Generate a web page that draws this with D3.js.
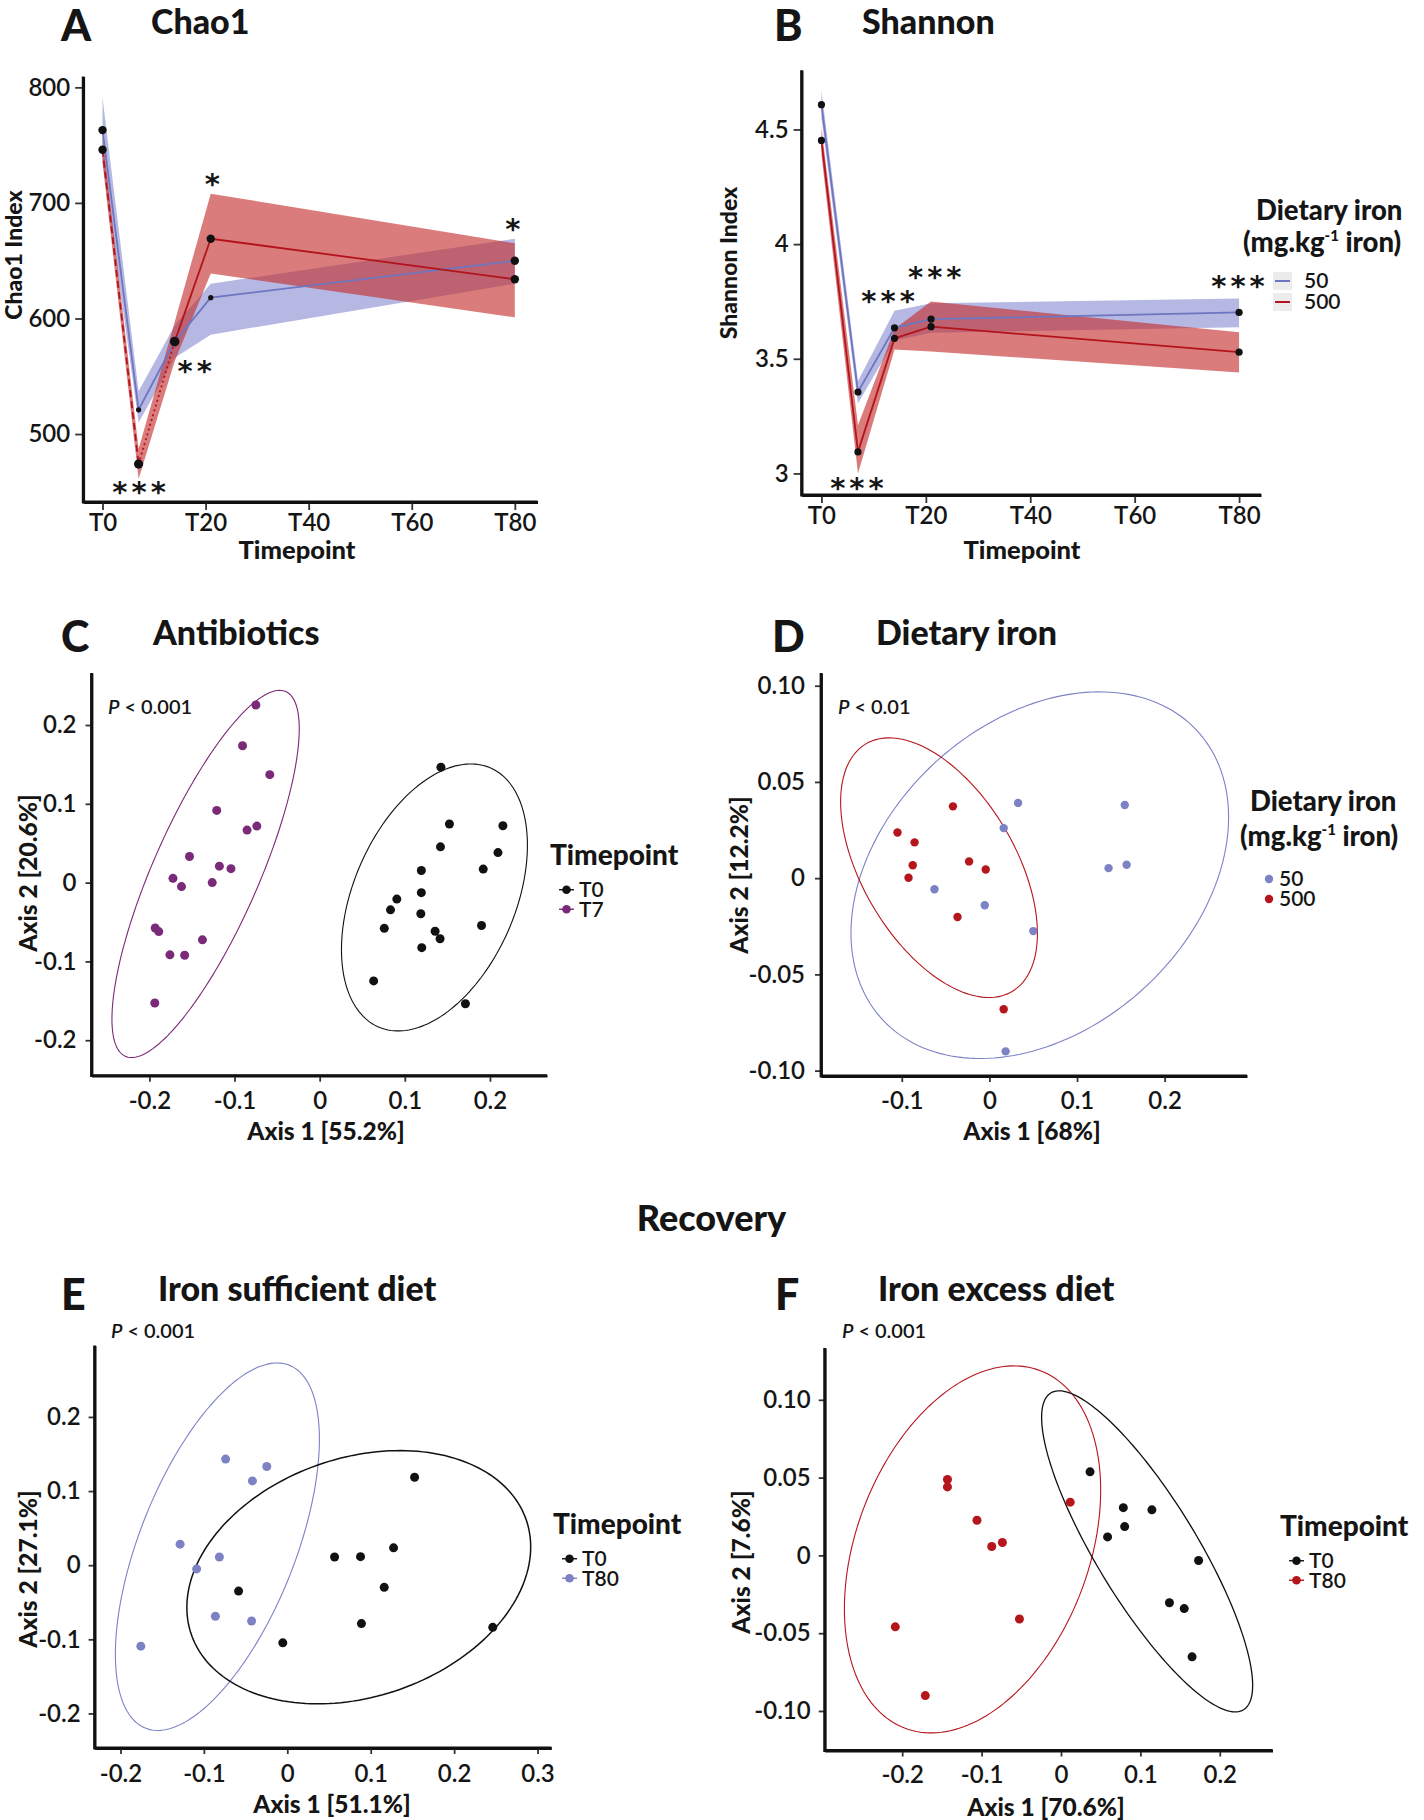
<!DOCTYPE html>
<html><head><meta charset="utf-8">
<script src="https://cdn.jsdelivr.net/npm/d3@7"></script>
<style>
body{margin:0;background:#fff}
svg text{font-family:Lato,'Open Sans',sans-serif;fill:#151515}
</style>
</head><body>
<svg id="fig" width="1424" height="1820"></svg>
<script>
// ---------------- DATA ----------------
const days = [0, 7, 14, 21, 80];
const timeTicks = [0, 20, 40, 60, 80];
const timeLabels = ['T0', 'T20', 'T40', 'T60', 'T80'];

const chao50    = [763, 521, 580, 618, 650];
const chao50Lo  = [736, 510, 566, 586, 630];
const chao50Hi  = [791, 537, 594, 630, 669];
const chao500   = [746, 474, 580, 669, 634];
const chao500Lo = [735, 461, 563, 639, 601];
const chao500Hi = [758, 487, 597, 708, 665];
const chaoTicks = [500, 600, 700, 800];
const chaoStars = [[7.1, 454.6, '***'], [17.9, 558.8, '**'], [21.3, 720.3, '*'], [79.6, 681.7, '*']];

const shan50    = [4.608, 3.355, 3.635, 3.673, 3.702];
const shan50Lo  = [4.55, 3.306, 3.58, 3.613, 3.637];
const shan50Hi  = [4.669, 3.403, 3.71, 3.742, 3.763];
const shan500   = [4.452, 3.094, 3.589, 3.640, 3.529];
const shan500Lo = [4.39, 3.0, 3.54, 3.532, 3.44];
const shan500Hi = [4.508, 3.21, 3.63, 3.75, 3.616];
const shanTicks = [3, 3.5, 4, 4.5];
const shanLabels = ['3', '3.5', '4', '4.5'];
const shanStars = [[6.8, 2.959, '***'], [12.76, 3.774, '***'], [21.7, 3.879, '***'], [79.8, 3.839, '***']];

// Panel C: antibiotics (T0 vs T7)
const cT7 = [[-0.0749,0.2254],[-0.0906,0.1737],[-0.0586,0.1370],[-0.1209,0.0916],[-0.0853,0.0667],[-0.0738,0.0717],
  [-0.1529,0.0331],[-0.1178,0.0209],[-0.1042,0.0177],[-0.1723,0.0054],[-0.1623,-0.0050],[-0.1262,0.0],
  [-0.1932,-0.0576],[-0.1890,-0.0621],[-0.1377,-0.0726],[-0.1759,-0.0916],[-0.1586,-0.0921],[-0.1937,-0.1528]];
const cT0 = [[0.1424,0.1465],[0.1524,0.0744],[0.2152,0.0721],[0.1419,0.0454],[0.2094,0.0381],[0.1921,0.0172],
  [0.1194,0.0154],[0.1194,-0.0127],[0.0906,-0.0209],[0.0832,-0.0345],[0.0759,-0.0580],[0.1188,-0.0395],
  [0.1901,-0.0544],[0.1356,-0.0617],[0.1414,-0.0712],[0.1199,-0.0825],[0.0634,-0.1247],[0.1712,-0.1537]];
// Panel D: dietary iron
const dFe50 = [[0.0327,0.0391],[0.0163,0.0260],[0.1545,0.0380],[0.1360,0.0052],[0.1566,0.0070],[-0.0627,-0.0058],
  [-0.0053,-0.0141],[0.0501,-0.0275],[0.0185,-0.0900]];
const dFe500 = [[-0.0416,0.0373],[-0.1049,0.0237],[-0.0854,0.0186],[-0.0875,0.0067],[-0.0923,0.0002],[-0.0232,0.0087],
  [-0.0042,0.0045],[-0.0364,-0.0202],[0.0163,-0.0681]];
// Panel E: iron sufficient diet
const eT80 = [[-0.0739,0.1431],[-0.0246,0.1332],[-0.0418,0.1137],[-0.1285,0.0284],[-0.0814,0.0110],[-0.1087,-0.0050],
  [-0.0862,-0.0688],[-0.0428,-0.0753],[-0.1756,-0.1092]];
const eT0 = [[0.1526,0.1187],[0.1274,0.0234],[0.0567,0.0110],[0.0878,0.0115],[0.1162,-0.0299],[-0.0584,-0.0349],
  [0.0889,-0.0788],[-0.0054,-0.1047],[0.2463,-0.0838]];
// Panel F: iron excess diet
const fT80 = [[-0.1430,0.0488],[-0.1430,0.0440],[-0.1058,0.0226],[-0.0872,0.0057],[-0.0738,0.0083],[0.0116,0.0342],
  [-0.2087,-0.0459],[-0.0523,-0.0409],[-0.1709,-0.0901]];
const fT0 = [[0.0366,0.0537],[0.0785,0.0307],[0.1145,0.0293],[0.0802,0.0185],[0.0587,0.0119],[0.1733,-0.0033],
  [0.1366,-0.0304],[0.1552,-0.0342],[0.1651,-0.0652]];

// ellipses: [cx, cy, sdx, sdy, r]
const ellC_T7 = [-0.134, 0.011, 0.110, 0.233, 0.79];
const ellC_T0 = [0.1348, -0.0188, 0.1092, 0.1694, 0.391];
const ellD_50 = [0.0575, 0.00155, 0.2155, 0.09525, 0.316];
const ellD_500 = [-0.0575, 0.00545, 0.1123, 0.06745, -0.507];
const ellE_T80 = [-0.0838, 0.02495, 0.1223, 0.24785, 0.585];
const ellE_T0 = [0.0857, -0.0162, 0.2061, 0.1708, 0.239];
const ellF_T80 = [-0.1114, 0.00385, 0.1614, 0.11795, 0.323];
const ellF_T0 = [0.1085, 0.0026, 0.1329, 0.1032, -0.834];

const ticksC_x = [-0.2, -0.1, 0, 0.1, 0.2], labC_x = ['-0.2','-0.1','0','0.1','0.2'];
const ticksC_y = [-0.2, -0.1, 0, 0.1, 0.2], labC_y = ['-0.2','-0.1','0','0.1','0.2'];
const ticksD_x = [-0.1, 0, 0.1, 0.2], labD_x = ['-0.1','0','0.1','0.2'];
const ticksD_y = [-0.1, -0.05, 0, 0.05, 0.1], labD_y = ['-0.10','-0.05','0','0.05','0.10'];
const ticksE_x = [-0.2, -0.1, 0, 0.1, 0.2, 0.3], labE_x = ['-0.2','-0.1','0','0.1','0.2','0.3'];
const ticksE_y = [-0.2, -0.1, 0, 0.1, 0.2], labE_y = ['-0.2','-0.1','0','0.1','0.2'];
const ticksF_x = [-0.2, -0.1, 0, 0.1, 0.2], labF_x = ['-0.2','-0.1','0','0.1','0.2'];
const ticksF_y = [-0.1, -0.05, 0, 0.05, 0.1], labF_y = ['-0.10','-0.05','0','0.05','0.10'];

// ---------------- STYLE ----------------
const C = {
  blueLine: '#6e76c0', blueFill: 'rgba(108,113,200,0.5)',
  redLine: '#b3131b', redFill: 'rgba(196,44,44,0.62)',
  bluePt: '#7c82c4', redPt: '#b5161c', purple: '#7a2a78', black: '#111'
};
const svg = d3.select('#fig');

function axes(p) {
  const x = d3.scaleLinear().domain(p.xDom).range([p.x0, p.x1]);
  const y = d3.scaleLinear().domain(p.yDom).range([p.y1, p.y0]);
  const g = svg.append('g');
  const xa = d3.axisBottom(x).tickValues(p.xT).tickFormat((d, i) => p.xL[i])
    .tickSize(p.tick).tickPadding(p.xPad).tickSizeOuter(0);
  const ya = d3.axisLeft(y).tickValues(p.yT).tickFormat((d, i) => p.yL[i])
    .tickSize(p.tick).tickPadding(p.yPad).tickSizeOuter(0);
  const gx = g.append('g').attr('transform', `translate(0,${p.y1})`).call(xa);
  const gy = g.append('g').attr('transform', `translate(${p.x0},0)`).call(ya);
  [gx, gy].forEach(a => {
    a.attr('font-size', 24).attr('font-family', null);
    a.select('.domain').attr('stroke', '#111').attr('stroke-width', 2.8);
    a.selectAll('.tick line').attr('stroke', '#333').attr('stroke-width', 1.8);
    a.selectAll('.tick text').style('font-weight', 600).attr('fill', '#151515');
  });
  g.append('path').attr('d', `M${p.x0},${p.y0}V${p.y1}H${p.x1}`).attr('fill', 'none')
    .attr('stroke', '#111').attr('stroke-width', 2.8);
  return { x, y, g };
}

function text(x, y, s, opt = {}) {
  const t = svg.append('text').attr('x', x).attr('y', y).text(s)
    .attr('font-size', opt.size || 24).style('font-weight', opt.w || 700)
    .attr('text-anchor', opt.anchor || 'start');
  if (opt.rot) t.attr('transform', `rotate(-90,${x},${y})`);
  if (opt.italic) t.style('font-style', 'italic');
  return t;
}

function title(letterX, y1, lbl, titleX, y2, s) {
  text(letterX, y1, lbl, { size: 43, w: 900 });
  text(titleX, y2, s, { size: 34, w: 900 });
}

function stars(ax, list) {
  list.forEach(([d, v, s]) => {
    svg.append('text').attr('x', ax.x(d) + 2).attr('y', ax.y(v) + 15).text(s)
      .attr('text-anchor', 'middle').attr('font-size', 29)
      .style('font-family', 'DejaVu Sans').style('font-weight', 700)
      .attr('letter-spacing', 4).attr('fill', '#111');
  });
}

function rows(m, lo, hi) { return days.map((d, i) => ({ d, m: m[i], lo: lo[i], hi: hi[i] })); }

function ribbonPlot(ax, s50, s500, dash500, dotR) {
  const area = d3.area().x(r => ax.x(r.d)).y0(r => ax.y(r.lo)).y1(r => ax.y(r.hi));
  const line = d3.line().x(r => ax.x(r.d)).y(r => ax.y(r.m));
  svg.append('path').datum(s50).attr('d', area).attr('fill', C.blueFill);
  svg.append('path').datum(s500).attr('d', area).attr('fill', C.redFill);
  svg.append('path').datum(s50).attr('d', line).attr('fill', 'none').attr('stroke', C.blueLine).attr('stroke-width', 1.8);
  for (let i = 0; i < s500.length - 1; i++) {
    svg.append('path').datum([s500[i], s500[i + 1]]).attr('d', line).attr('fill', 'none')
      .attr('stroke', C.redLine).attr('stroke-width', 1.8)
      .attr('stroke-dasharray', dash500[i]);
  }
  [[s50, dotR[0]], [s500, dotR[1]]].forEach(([s, rr]) => {
    svg.selectAll(null).data(s).enter().append('circle')
      .attr('cx', r => ax.x(r.d)).attr('cy', r => ax.y(r.m)).attr('r', (r, i) => rr[i]).attr('fill', '#111');
  });
}

function ellipse(ax, e, color, w) {
  const [cx, cy, sx, sy, r] = e;
  const ts = d3.range(0, 361, 2).map(a => a * Math.PI / 180);
  const pts = ts.map(t => [cx + sx * Math.cos(t), cy + sy * (r * Math.cos(t) + Math.sqrt(1 - r * r) * Math.sin(t))]);
  svg.append('path').datum(pts).attr('d', d3.line().x(p => ax.x(p[0])).y(p => ax.y(p[1])))
    .attr('fill', 'none').attr('stroke', color).attr('stroke-width', w || 1.1);
}

function points(ax, pts, color, r) {
  svg.selectAll(null).data(pts).enter().append('circle')
    .attr('cx', p => ax.x(p[0])).attr('cy', p => ax.y(p[1])).attr('r', r || 4.5).attr('fill', color);
}

// stacked legend labels drawn as one text block with tspans
function labelBlock(x, firstCy, labels, dy, size) {
  const t = svg.append('text').attr('font-size', size).style('font-weight', 600);
  labels.forEach((l, i) => {
    t.append('tspan').attr('x', x).attr('y', firstCy + i * dy + 7.3).text(l);
  });
}

function ptLegend(x, y, ttl, labels, colors, dy) {
  text(x, y, ttl, { size: 28, w: 900 });
  const cy0 = y + 15 + 0.5 * dy;
  labels.forEach((l, i) => {
    const cy = cy0 + i * dy;
    svg.append('line').attr('x1', x + 9).attr('x2', x + 24).attr('y1', cy).attr('y2', cy)
      .attr('stroke', colors[i]).attr('stroke-width', 1.4);
    svg.append('circle').attr('cx', x + 16.5).attr('cy', cy).attr('r', 4.3).attr('fill', colors[i]);
  });
  labelBlock(x + 29, cy0, labels, dy, 21);
}

function ironTitle(x1, y1, x2, y2) {
  text(x1, y1, 'Dietary iron', { size: 27.5, w: 900 });
  const t = text(x2, y2, '(mg.kg', { size: 27.5, w: 900 });
  t.append('tspan').text('-1').attr('font-size', 15).attr('dy', -11);
  t.append('tspan').text(' iron)').attr('dy', 11);
}

// ---------------- PANEL A ----------------
const A = axes({ x0: 83.2, x1: 537.5, y0: 76.6, y1: 502, xDom: [-3.75, 84.4], yDom: [441.2, 809.3],
  xT: timeTicks, xL: timeLabels, yT: chaoTicks, yL: chaoTicks.map(String), tick: 8, xPad: 4, yPad: 5 });
ribbonPlot(A, rows(chao50, chao50Lo, chao50Hi), rows(chao500, chao500Lo, chao500Hi),
  ['7,4', '2,3', null, null], [[4.2, 2.6, 4.2, 2.6, 4.2], [4.2, 4.6, 4.8, 4.2, 4.2]]);
stars(A, chaoStars);
title(61, 41, 'A', 151, 34, 'Chao1');
text(297, 559, 'Timepoint', { size: 25.5, w: 900, anchor: 'middle' });
text(22, 255, 'Chao1 Index', { size: 23, w: 900, anchor: 'middle', rot: true });

// ---------------- PANEL B ----------------
const B = axes({ x0: 801.6, x1: 1261, y0: 70.3, y1: 495, xDom: [-3.8, 84.2], yDom: [2.906, 4.758],
  xT: timeTicks, xL: timeLabels, yT: shanTicks, yL: shanLabels, tick: 8, xPad: 4, yPad: 5 });
ribbonPlot(B, rows(shan50, shan50Lo, shan50Hi), rows(shan500, shan500Lo, shan500Hi),
  [null, null, null, null], [[3.6, 3.6, 3.6, 3.6, 3.6], [3.6, 3.6, 3.6, 3.6, 3.6]]);
stars(B, shanStars);
title(774, 41, 'B', 862, 34, 'Shannon');
text(1022, 559, 'Timepoint', { size: 25.5, w: 900, anchor: 'middle' });
text(737, 263, 'Shannon Index', { size: 23, w: 900, anchor: 'middle', rot: true });
ironTitle(1256, 220, 1243, 252);
[[C.blueLine, 281], [C.redLine, 302]].forEach(([c, cy]) => {
  svg.append('rect').attr('x', 1273).attr('y', cy - 9).attr('width', 19).attr('height', 18).attr('fill', '#ececec');
  svg.append('line').attr('x1', 1275).attr('x2', 1290).attr('y1', cy).attr('y2', cy).attr('stroke', c).attr('stroke-width', 2);
});
labelBlock(1304, 281, ['50', '500'], 21, 21);

// ---------------- PANEL C ----------------
const Cp = axes({ x0: 91.5, x1: 547, y0: 673, y1: 1075.7, xDom: [-0.268, 0.267], yDom: [-0.245, 0.266],
  xT: ticksC_x, xL: labC_x, yT: ticksC_y, yL: labC_y, tick: 6, xPad: 10, yPad: 9 });
ellipse(Cp, ellC_T7, C.purple); ellipse(Cp, ellC_T0, C.black);
points(Cp, cT7, C.purple); points(Cp, cT0, C.black);
title(61, 652, 'C', 153, 645, 'Antibiotics');
text(108, 714, 'P', { size: 20, w: 600, italic: true }).append('tspan').text(' < 0.001').style('font-style', 'normal');
text(326, 1140, 'Axis 1 [55.2%]', { size: 24.5, w: 900, anchor: 'middle' });
text(37, 873, 'Axis 2 [20.6%]', { size: 24.5, w: 900, anchor: 'middle', rot: true });
ptLegend(550, 865, 'Timepoint', ['T0', 'T7'], [C.black, C.purple], 19.5);

// ---------------- PANEL D ----------------
const Dp = axes({ x0: 821, x1: 1247, y0: 673, y1: 1076, xDom: [-0.1922, 0.294], yDom: [-0.1028, 0.1066],
  xT: ticksD_x, xL: labD_x, yT: ticksD_y, yL: labD_y, tick: 6, xPad: 10, yPad: 10 });
ellipse(Dp, ellD_50, C.bluePt); ellipse(Dp, ellD_500, C.redPt);
points(Dp, dFe50, C.bluePt, 4.2); points(Dp, dFe500, C.redPt, 4.2);
title(772, 652, 'D', 876, 645, 'Dietary iron');
text(838, 714, 'P', { size: 20, w: 600, italic: true }).append('tspan').text(' < 0.01').style('font-style', 'normal');
text(1032, 1140, 'Axis 1 [68%]', { size: 24.5, w: 900, anchor: 'middle' });
text(748, 875, 'Axis 2 [12.2%]', { size: 24.5, w: 900, anchor: 'middle', rot: true });
ironTitle(1250, 811, 1240, 846);
[[C.bluePt, 879], [C.redPt, 899]].forEach(([c, cy]) => {
  svg.append('circle').attr('cx', 1269).attr('cy', cy).attr('r', 4.2).attr('fill', c);
});
labelBlock(1279, 879, ['50', '500'], 20, 21);

// ---------------- RECOVERY ----------------
text(711.5, 1231, 'Recovery', { size: 36, w: 900, anchor: 'middle' });

// ---------------- PANEL E ----------------
const Ep = axes({ x0: 94.6, x1: 551.3, y0: 1345.4, y1: 1748, xDom: [-0.231, 0.3165], yDom: [-0.2466, 0.2965],
  xT: ticksE_x, xL: labE_x, yT: ticksE_y, yL: labE_y, tick: 6, xPad: 11, yPad: 8 });
ellipse(Ep, ellE_T80, C.bluePt); ellipse(Ep, ellE_T0, C.black, 1.5);
points(Ep, eT80, C.bluePt); points(Ep, eT0, C.black);
title(61, 1310, 'E', 158, 1301, 'Iron sufficient diet');
text(111, 1338, 'P', { size: 20, w: 600, italic: true }).append('tspan').text(' < 0.001').style('font-style', 'normal');
text(332, 1813, 'Axis 1 [51.1%]', { size: 24.5, w: 900, anchor: 'middle' });
text(37, 1569, 'Axis 2 [27.1%]', { size: 24.5, w: 900, anchor: 'middle', rot: true });
ptLegend(553, 1534, 'Timepoint', ['T0', 'T80'], [C.black, C.bluePt], 19.5);

// ---------------- PANEL F ----------------
const Fp = axes({ x0: 824.7, x1: 1272.5, y0: 1348, y1: 1750.5, xDom: [-0.2976, 0.2664], yDom: [-0.1254, 0.1333],
  xT: ticksF_x, xL: labF_x, yT: ticksF_y, yL: labF_y, tick: 6, xPad: 9, yPad: 8 });
ellipse(Fp, ellF_T80, C.redPt); ellipse(Fp, ellF_T0, C.black, 1.3);
points(Fp, fT80, C.redPt); points(Fp, fT0, C.black);
title(775, 1310, 'F', 878, 1301, 'Iron excess diet');
text(842, 1338, 'P', { size: 20, w: 600, italic: true }).append('tspan').text(' < 0.001').style('font-style', 'normal');
text(1046, 1816, 'Axis 1 [70.6%]', { size: 24.5, w: 900, anchor: 'middle' });
text(750, 1562, 'Axis 2 [7.6%]', { size: 24.5, w: 900, anchor: 'middle', rot: true });
ptLegend(1280, 1536, 'Timepoint', ['T0', 'T80'], [C.black, C.redPt], 19.5);
</script>
</body></html>
